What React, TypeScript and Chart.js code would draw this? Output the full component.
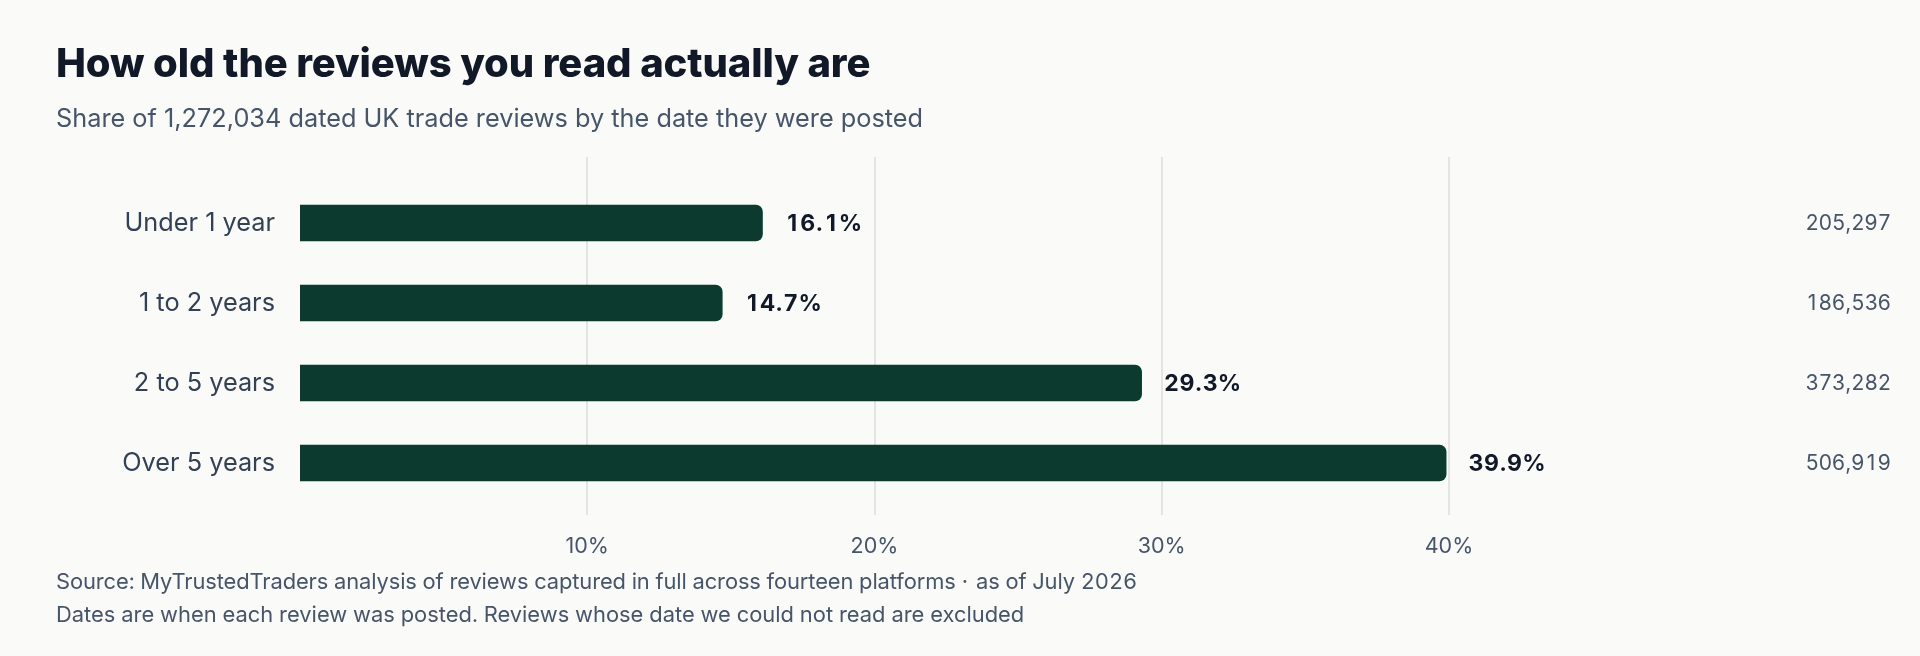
import { useEffect, useRef } from "react";
import { Chart, registerables } from "chart.js";
import type { Plugin } from "chart.js";

Chart.register(...registerables);

const categories = ["Under 1 year", "1 to 2 years", "2 to 5 years", "Over 5 years"];
const shares = [16.1, 14.7, 29.3, 39.9];
const counts = [205297, 186536, 373282, 506919];
const xTicks = [10, 20, 30, 40];

const FONT = "Inter, 'Noto Sans', sans-serif";

// canvas has no tabular-nums switch, so space the digits by hand
function fillTabular(
  ctx: CanvasRenderingContext2D,
  text: string,
  x: number,
  y: number,
  align: "left" | "right"
) {
  const digitW = ctx.measureText("0").width;
  const chars = [...text];
  const widths = chars.map((c) => (/\d/.test(c) ? digitW : ctx.measureText(c).width));
  const total = widths.reduce((a, b) => a + b, 0);
  let cx = align === "right" ? x - total : x;
  ctx.textAlign = "left";
  chars.forEach((c, i) => {
    const own = ctx.measureText(c).width;
    ctx.fillText(c, cx + (widths[i] - own) / 2, y);
    cx += widths[i];
  });
}

// vertical grid lines reach a bit above/below the bar band
const gridPlugin: Plugin<"bar"> = {
  id: "extendedGrid",
  beforeDatasetsDraw(chart) {
    const { ctx, chartArea, scales } = chart;
    const x = scales.x;
    ctx.save();
    ctx.strokeStyle = "#e4e4e2";
    ctx.lineWidth = 2;
    x.ticks.forEach((t) => {
      const px = Math.round(x.getPixelForValue(t.value));
      ctx.beginPath();
      ctx.moveTo(px, chartArea.top - 26);
      ctx.lineTo(px, chartArea.bottom + 12);
      ctx.stroke();
    });
    ctx.restore();
  },
};

const labelsPlugin: Plugin<"bar"> = {
  id: "barLabels",
  afterDatasetsDraw(chart) {
    const { ctx } = chart;
    const meta = chart.getDatasetMeta(0);
    ctx.save();
    ctx.textBaseline = "middle";
    meta.data.forEach((bar, i) => {
      ctx.font = `700 23px ${FONT}`;
      ctx.fillStyle = "#111827";
      fillTabular(ctx, shares[i].toFixed(1) + "%", bar.x + 22, bar.y + 1, "left");

      ctx.font = `400 21px ${FONT}`;
      ctx.fillStyle = "#475569";
      fillTabular(ctx, counts[i].toLocaleString("en-GB"), chart.width - 29, bar.y + 1, "right");
    });
    ctx.restore();
  },
};

function AgeChart() {
  const canvasRef = useRef<HTMLCanvasElement | null>(null);
  const chartRef = useRef<Chart<"bar", number[], string> | null>(null);

  useEffect(() => {
    if (!canvasRef.current) return;
    const ctx = canvasRef.current.getContext("2d");
    if (!ctx) return;

    if (chartRef.current) chartRef.current.destroy();

    chartRef.current = new Chart(ctx, {
      type: "bar",
      data: {
        labels: categories,
        datasets: [
          {
            data: shares,
            backgroundColor: "#0c3a2f",
            borderRadius: 7,
            borderSkipped: "start",
            barThickness: 36,
          },
        ],
      },
      options: {
        indexAxis: "y",
        animation: false,
        responsive: true,
        maintainAspectRatio: false,
        layout: {
          padding: { top: 183, right: 471, bottom: 93, left: 0 },
        },
        scales: {
          x: {
            min: 0,
            max: 40,
            border: { display: false },
            grid: { display: false, drawTicks: false },
            afterBuildTicks: (scale) => {
              scale.ticks = xTicks.map((v) => ({ value: v }));
            },
            afterFit: (scale) => {
              scale.height = 60;
            },
            ticks: {
              padding: 31,
              color: "#475569",
              font: { family: FONT, size: 21.5 },
              callback: (v) => `${v}%`,
            },
          },
          y: {
            border: { display: false },
            grid: { display: false, drawTicks: false },
            afterFit: (scale) => {
              scale.width = 300;
            },
            ticks: {
              padding: 25,
              color: "#334155",
              font: { family: FONT, size: 25.3 },
            },
          },
        },
        plugins: {
          legend: { display: false },
          tooltip: { enabled: false },
        },
      },
      plugins: [gridPlugin, labelsPlugin],
    });

    return () => {
      if (chartRef.current) {
        chartRef.current.destroy();
        chartRef.current = null;
      }
    };
  }, []);

  return <canvas ref={canvasRef} />;
}

export default function App() {
  return (
    <div
      style={{
        position: "fixed",
        inset: 0,
        background: "#fafaf9",
        fontFamily: FONT,
        overflow: "hidden",
      }}
    >
      <div style={{ position: "absolute", inset: 0 }}>
        <AgeChart />
      </div>
      <div
        style={{
          position: "absolute",
          left: 56,
          top: 43,
          fontSize: 40,
          lineHeight: 1,
          fontWeight: 800,
          letterSpacing: "-0.1px",
          color: "#111827",
          whiteSpace: "nowrap",
        }}
      >
        How old the reviews you read actually are
      </div>
      <div
        style={{
          position: "absolute",
          left: 56,
          top: 105,
          fontSize: 25.3,
          lineHeight: 1,
          color: "#475569",
          whiteSpace: "nowrap",
        }}
      >
        Share of 1,272,034 dated UK trade reviews by the date they were posted
      </div>
      <div
        style={{
          position: "absolute",
          left: 56,
          top: 565,
          fontSize: 21.9,
          lineHeight: "32.5px",
          color: "#475569",
          whiteSpace: "nowrap",
          fontVariantNumeric: "tabular-nums",
        }}
      >
        <div style={{ letterSpacing: "-0.1px" }}>
          Source: MyTrustedTraders analysis of reviews captured in full across fourteen platforms
          <span style={{ margin: "0 8px 0 6px" }}>·</span>as of July 2026
        </div>
        <div>Dates are when each review was posted. Reviews whose date we could not read are excluded</div>
      </div>
    </div>
  );
}
